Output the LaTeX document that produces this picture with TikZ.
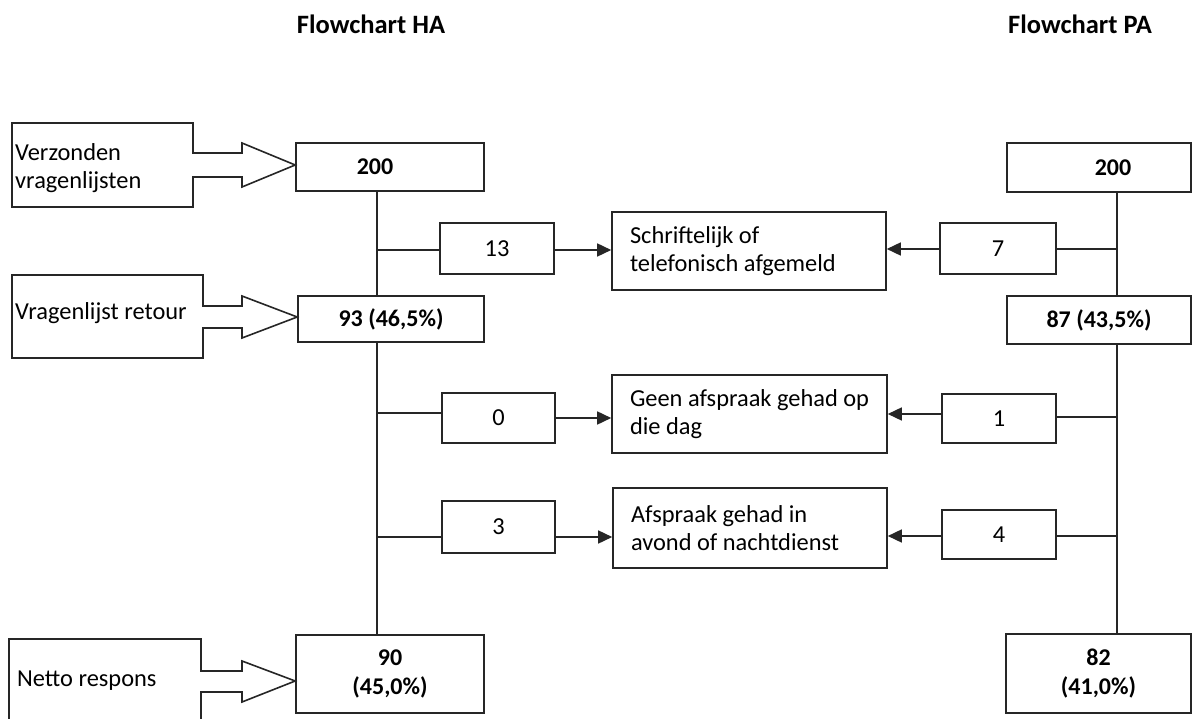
\documentclass[tikz,border=0pt]{standalone}
\usepackage{fontspec}
\setmainfont{Carlito}
\usetikzlibrary{arrows.meta}
\tikzset{
  ln/.style={draw=black!85, line width=1.6pt},
  box/.style={ln, rectangle, inner sep=0pt, align=center, font=\fontsize{24.4}{28}\selectfont},
  bbox/.style={box, font=\fontsize{24}{29}\selectfont\bfseries},
  tbox/.style={box, align=left, text width=#1, inner xsep=0pt, execute at begin node={\spaceskip=0pt\xspaceskip=0pt}},
  lbl/.style={inner sep=0pt, align=left, font=\fontsize{24.4}{27.5}\selectfont},
  arr/.style={ln, -{Triangle[length=14pt,width=13pt]}},
  callout/.style={ln, line join=miter}
}
\begin{document}
\begin{tikzpicture}[x=1pt,y=-1pt]
\useasboundingbox (0,0) rectangle (1192,719);
\clip (0,0) rectangle (1192,719);
% headings
\node[inner sep=0pt, font=\fontsize{26.5}{30}\selectfont\bfseries] (th) at (371,24) {Flowchart HA};
\node[inner sep=0pt, font=\fontsize{26.5}{30}\selectfont\bfseries] (tp) at (1080,24) {Flowchart PA};
% HA column
\node[bbox, minimum width=188pt, minimum height=48pt] (h200) at (390,167) {\hspace*{-30pt}200};
\node[bbox, minimum width=186pt, minimum height=46pt] (h93) at (391,319) {93 (46,5\%)};
\node[bbox, minimum width=188pt, minimum height=78pt] (h90) at (390,674) {90\\(45,0\%)};
% PA column
\node[bbox, minimum width=184pt, minimum height=49pt] (p200) at (1099,167.5) {200\hspace*{-28pt}};
\node[bbox, minimum width=184pt, minimum height=48pt] (p87) at (1099,320) {87 (43,5\%)};
\node[bbox, minimum width=185pt, minimum height=79pt] (p82) at (1098.5,673.5) {82\\(41,0\%)};
% number boxes
\node[box, minimum width=114pt, minimum height=51pt] (n13) at (497,248.5) {13};
\node[box, minimum width=113pt, minimum height=50pt] (n0) at (498.5,418) {0};
\node[box, minimum width=113pt, minimum height=52pt] (n3) at (498.5,527) {3};
\node[box, minimum width=116pt, minimum height=51pt] (n7) at (998,248.5) {7};
\node[box, minimum width=114pt, minimum height=49pt] (n1) at (999,418.5) {1};
\node[box, minimum width=114pt, minimum height=49pt] (n4) at (999,534.5) {4};
% middle boxes
\node[tbox=238pt, minimum width=274pt, minimum height=78pt, inner xsep=18pt] (m1) at (749,251) {Schriftelijk of\\telefonisch afgemeld};
\node[tbox=239pt, minimum width=275pt, minimum height=78pt, inner xsep=18pt] (m2) at (749.5,414) {Geen afspraak gehad op\\die dag};
\node[tbox=238pt, minimum width=274pt, minimum height=80pt, inner xsep=18pt] (m3) at (750,528) {Afspraak gehad in\\avond of nachtdienst};
% junction coordinates
\coordinate (hb1) at (377,250);
\coordinate (hb2) at (377,413);
\coordinate (hb3) at (377,537);
\coordinate (pb1) at (1117,249);
\coordinate (pb2) at (1117,417);
\coordinate (pb3) at (1117,536);
\coordinate (pa2) at (999,414);
% vertical trunks
\draw[ln] (hb1 |- h200.south) -- (hb1 |- h93.north);
\draw[ln] (hb1 |- h93.south) -- (hb1 |- h90.north);
\draw[ln] (pb1 |- p200.south) -- (pb1 |- p87.north);
\draw[ln] (pb1 |- p87.south) -- (pb1 |- p82.north);
% HA branches
\draw[ln] (hb1) -- (hb1 -| n13.west);
\draw[ln] (hb2) -- (hb2 -| n0.west);
\draw[ln] (hb3) -- (hb3 -| n3.west);
\draw[arr] (hb1 -| n13.east) -- (hb1 -| m1.west);
\draw[arr] (n0.east) -- (n0.east -| m2.west);
\draw[arr] (hb3 -| n3.east) -- (hb3 -| m3.west);
% PA branches
\draw[ln] (pb1) -- (pb1 -| n7.east);
\draw[ln] (pb2) -- (pb2 -| n1.east);
\draw[ln] (pb3) -- (pb3 -| n4.east);
\draw[arr] (pb1 -| n7.west) -- (pb1 -| m1.east);
\draw[arr] (pa2 -| n1.west) -- (pa2 -| m2.east);
\draw[arr] (pb3 -| n4.west) -- (pb3 -| m3.east);
% callouts
\node[lbl, anchor=west] (c1) at (15,168) {Verzonden\\vragenlijsten};
\draw[callout] (12,123) -- (193,123) -- (193,153) -- (242,153) -- (242,143) -- (h200.west |- 0,165) -- (242,187) -- (242,177) -- (193,177) -- (193,207) -- (12,207) -- cycle;
\node[lbl, anchor=west] (c2) at (15,313) {Vragenlijst retour};
\draw[callout] (12,275) -- (203,275) -- (203,306) -- (242,306) -- (242,296) -- (h93.west |- 0,317) -- (242,338) -- (242,328) -- (203,328) -- (203,358) -- (12,358) -- cycle;
\node[lbl, anchor=west] (c3) at (17,681) {Netto respons};
\draw[callout] (9,730) -- (9,639) -- (201,639) -- (201,671) -- (242,671) -- (242,661) -- (h90.west |- 0,681) -- (242,702) -- (242,692) -- (201,692) -- (201,730);
\end{tikzpicture}
\end{document}
